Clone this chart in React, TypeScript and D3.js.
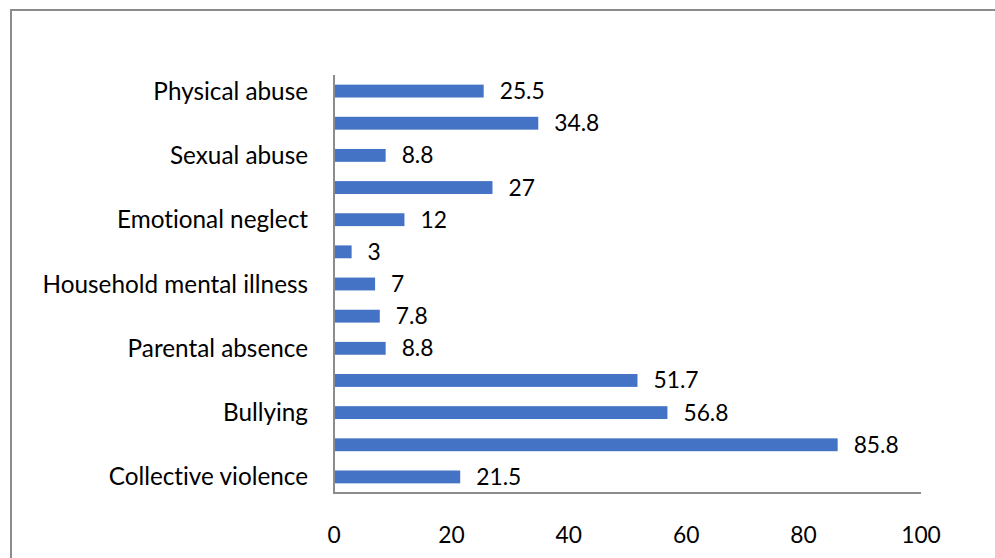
import React from "react";
import * as d3 from "d3";

const categories = [
  "Physical abuse",
  "Emotional abuse",
  "Sexual abuse",
  "Physical neglect",
  "Emotional neglect",
  "Household substance abuse",
  "Household mental illness",
  "Incarcerated household member",
  "Parental absence",
  "Domestic violence",
  "Bullying",
  "Community violence",
  "Collective violence",
];
const values = [25.5, 34.8, 8.8, 27, 12, 3, 7, 7.8, 8.8, 51.7, 56.8, 85.8, 21.5];
const xTicks = [0, 20, 40, 60, 80, 100];

const W = 995;
const H = 558;
const FONT = "Lato, 'Open Sans', sans-serif";
const FS_CAT = 24.3;
const FS_NUM = 22.8;

export default function App() {
  const x = d3.scaleLinear().domain([0, 100]).range([334, 921]);
  const y = d3
    .scaleBand<number>()
    .domain(categories.map((_, i) => i))
    .range([75, 493])
    .paddingInner(0.6)
    .paddingOuter(0.3);

  return (
    <svg
      width={W}
      height={H}
      style={{ position: "absolute", left: 0, top: 0, display: "block", background: "#fff", fontVariantLigatures: "none" }}
      fontFamily={FONT}
    >
      <rect x={11} y={10} width={W + 20} height={H + 20} fill="#fff" stroke="#8c8c8c" strokeWidth={2} />
      {values.map((v, i) => (
        <rect
          key={"b" + i}
          x={x(0)}
          y={y(i)!}
          width={x(v) - x(0)}
          height={y.bandwidth()}
          fill="#4472C4"
        />
      ))}
      {values.map((v, i) => (
        <text
          key={"l" + i}
          x={x(v) + 16}
          y={y(i)! + y.bandwidth() / 2}
          dy="0.35em"
          fontSize={FS_NUM}
          fill="#000"
        >
          {String(v)}
        </text>
      ))}
      {categories.map((c, i) =>
        i % 2 === 0 ? (
          <text
            key={"c" + i}
            x={308}
            y={y(i)! + y.bandwidth() / 2}
            dy="0.35em"
            textAnchor="end"
            fontSize={FS_CAT}
            fill="#000"
          >
            {c}
          </text>
        ) : null
      )}
      <line x1={334} x2={334} y1={75} y2={494} stroke="#8c8c8c" strokeWidth={2} />
      <line x1={333} x2={921} y1={493} y2={493} stroke="#8c8c8c" strokeWidth={2} />
      {xTicks.map((t) => (
        <text
          key={"t" + t}
          x={x(t)}
          y={535}
          dy="0.35em"
          textAnchor="middle"
          fontSize={FS_NUM}
          fill="#000"
        >
          {t}
        </text>
      ))}
    </svg>
  );
}
